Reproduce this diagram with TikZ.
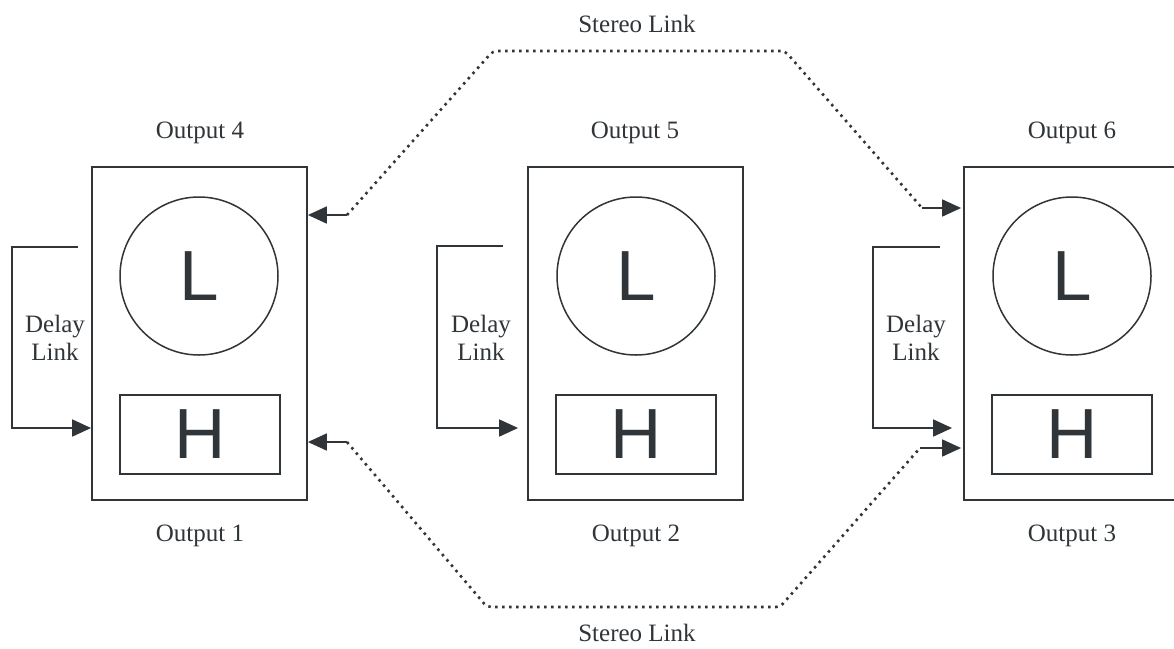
\documentclass[tikz,border=0pt]{standalone}
\usepackage{fontspec}
\setmainfont{Liberation Serif}
\newfontfamily\bigsans{Liberation Sans}
\usetikzlibrary{arrows.meta}
\definecolor{ink}{HTML}{2F3538}
\tikzset{
  unit/.style={draw=ink, line width=1.8pt, inner sep=0pt, minimum width=215pt, minimum height=333pt},
  ring/.style={draw=ink, line width=1.5pt, circle, inner sep=0pt, minimum size=158pt, text=ink, font=\bigsans\fontsize{71}{71}\selectfont},
  hbox/.style={draw=ink, line width=1.8pt, inner sep=0pt, minimum width=160pt, minimum height=79pt, text=ink, font=\bigsans\fontsize{71}{71}\selectfont},
  lbl/.style={text=ink, inner sep=0pt, font=\fontsize{25}{28}\selectfont, align=center},
  link/.style={draw=ink, line width=1.8pt, -{Triangle[length=19pt,width=17pt]}},
  stereo/.style={draw=ink, line width=2.6pt, dash pattern=on 2.5pt off 4.5pt, rounded corners=4pt},
}
\begin{document}
\begin{tikzpicture}[x=1pt,y=-1pt]
\clip (0,0) rectangle (1174,648);
\fill[white] (0,0) rectangle (1174,648);
% boxes
\node[unit] (b1) at (199.5,333.5) {};
\node[unit] (b2) at (635.5,333.5) {};
\node[unit] (b3) at (1071.5,333.5) {};
% circles
\node[ring] (c1) at (199,276) {L};
\node[ring] (c2) at (636,276) {L};
\node[ring] (c3) at (1072,276) {L};
% H boxes
\node[hbox] (h1) at (200,434.5) {H};
\node[hbox] (h2) at (636,434.5) {H};
\node[hbox] (h3) at (1072,434.5) {H};
% labels
\node[lbl] (o4) at (200,133) {Output 4};
\node[lbl] (o5) at (635,133) {Output 5};
\node[lbl] (o6) at (1072,133) {Output 6};
\node[lbl] (o1) at (200,536) {Output 1};
\node[lbl] (o2) at (636,536) {Output 2};
\node[lbl] (o3) at (1072,536) {Output 3};
\node[lbl] (st) at (637,24) {Stereo Link};
\node[lbl] (sb) at (637,633) {Stereo Link};
\node[lbl] (dl1) at (55,338) {Delay\\Link};
\node[lbl] (dl2) at (481,338) {Delay\\Link};
\node[lbl] (dl3) at (916,338) {Delay\\Link};
% delay links
\coordinate (d1) at (78,247);
\coordinate (d2) at (503,246);
\coordinate (d3) at (940,247);
\draw[link] (d1) -- (12,247) -- (12,428) -- (b1.west |- 0,428);
\draw[link, shorten >=9pt] (d2) -- (437,246) -- (437,428) -- (b2.west |- 0,428);
\draw[link, shorten >=11pt] (d3) -- (873,247) -- (873,428) -- (b3.west |- 0,428);
% stereo links
\coordinate (ta) at (347,215);
\coordinate (tb) at (922,208);
\coordinate (ba) at (347,442);
\coordinate (bb) at (920,448);
\draw[link] (ta) -- (b1.east |- ta);
\draw[stereo] (ta) -- (493,51) -- (785,51) -- (tb);
\draw[link, shorten >=2pt] (tb) -- (b3.west |- tb);
\draw[link] (ba) -- (b1.east |- ba);
\draw[stereo] (ba) -- (487,607) -- (780,607) -- (bb);
\draw[link, shorten >=2pt] (bb) -- (b3.west |- bb);
\end{tikzpicture}
\end{document}
